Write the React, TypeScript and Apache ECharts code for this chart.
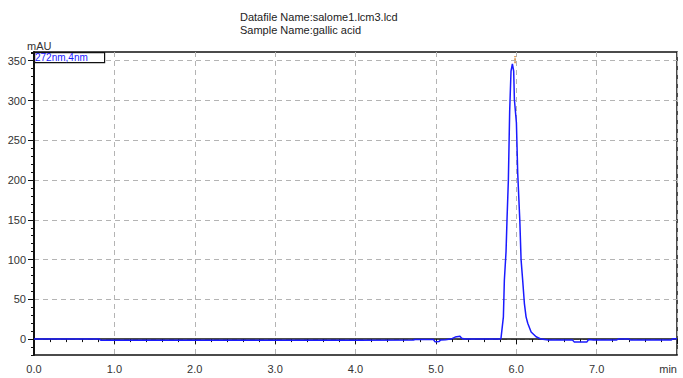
import React, { useEffect, useRef } from 'react';
import * as echarts from 'echarts';

// Chromatogram trace: retention time (min) and detector signal (mAU)
const timeMin = [
  0.0, 0.81, 0.83, 2.0, 3.0, 4.0, 4.72, 4.74, 4.97, 4.99, 5.04, 5.06, 5.12, 5.2, 5.24, 5.3,
  5.32, 5.36, 5.8, 5.81, 5.84, 5.852, 5.873, 5.885, 5.902, 5.918, 5.935, 5.952, 5.968,
  5.977, 6.002, 6.018, 6.044, 6.06, 6.08, 6.101, 6.122, 6.143, 6.185, 6.247, 6.31, 6.4,
  6.7, 6.72, 6.88, 6.9, 6.96, 7.25, 7.27, 7.4, 7.42, 7.93, 7.95, 8.0,
];
const signalMAU = [
  0, 0, -1.3, -1.3, -1.3, -1.3, -1.2, -0.5, -0.5, -3.5, -3.0, -1.0, -0.8, 0.5, 2.5, 3.5,
  1.0, 0, 0, 1, 28, 74, 110, 150, 200, 286, 337, 346, 337,
  301, 272, 209, 150, 100, 74, 45, 28, 20, 9, 3, 0, -1,
  -1.2, -3.5, -3.5, -0.5, -1.0, -1.0, 0, 0, -1.0, -1.0, 0.5, 0.5,
];

// Peak apex marker
const peakMarkTime = [5.985, 5.985];
const peakMarkValue = [347, 356];

// Axis labelling
const yLabelValues = [0, 50, 100, 150, 200, 250, 300, 350];
const xMax = 8.0;
const titleLines = ['Datafile Name:salome1.lcm3.lcd', 'Sample Name:gallic acid'];
const channelName = '272nm,4nm';
const yUnit = 'mAU';
const xUnit = 'min';

const FONT = '"Liberation Sans", Arial, sans-serif';

export default function App() {
  const ref = useRef<HTMLDivElement>(null);

  useEffect(() => {
    if (!ref.current) return;
    const chart = echarts.init(ref.current, undefined, { renderer: 'svg' });

    const trace = timeMin.map((t, i) => [t, signalMAU[i]]);
    const mark = peakMarkTime.map((t, i) => [t, peakMarkValue[i]]);

    chart.setOption({
      animation: false,
      backgroundColor: '#ffffff',
      textStyle: { fontFamily: FONT },
      grid: {
        left: 34,
        right: 6,
        top: 52,
        bottom: 23,
        show: true,
        borderColor: '#111',
        borderWidth: 1.5,
        backgroundColor: 'transparent',
      },
      xAxis: {
        type: 'value',
        min: 0,
        max: xMax,
        interval: 1,
        axisLine: { show: true, lineStyle: { color: '#111', width: 1.5 } },
        axisTick: { show: true, inside: false, length: 5, lineStyle: { color: '#111' } },
        minorTick: { show: true, splitNumber: 5, length: 3, lineStyle: { color: '#111' } },
        axisLabel: {
          fontSize: 11,
          color: '#333',
          margin: 8,
          fontFamily: FONT,
          alignMaxLabel: 'right',
          formatter: (v: number) => (v >= xMax ? xUnit : v.toFixed(1)),
        },
        splitLine: {
          show: true,
          lineStyle: { color: '#b4b4b4', type: [5, 4], width: 1 },
        },
      },
      yAxis: [
        {
          type: 'value',
          min: -20,
          max: 361,
          interval: 10,
          axisLine: { show: true, lineStyle: { color: '#111', width: 2 } },
          axisTick: {
            show: true,
            length: 6,
            customValues: yLabelValues,
            lineStyle: { color: '#111' },
          },
          axisLabel: {
            fontSize: 11,
            color: '#333',
            margin: 8,
            fontFamily: FONT,
            customValues: yLabelValues,
          },
          splitLine: {
            show: true,
            lineStyle: { color: '#b4b4b4', type: [5, 4], width: 1 },
          },
        },
        {
          // short ticks every 10 mAU
          type: 'value',
          min: -20,
          max: 361,
          interval: 10,
          position: 'left',
          axisLine: { show: false },
          axisTick: { show: true, length: 3, lineStyle: { color: '#111' } },
          axisLabel: { show: false },
          splitLine: { show: false },
        },
      ],
      graphic: [
        {
          type: 'text',
          left: 240,
          top: 10,
          style: {
            text: titleLines.join('\n'),
            font: `11px ${FONT}`,
            fill: '#222',
            lineHeight: 13,
          },
        },
        {
          type: 'text',
          left: 27,
          top: 40,
          style: { text: yUnit, font: `11px ${FONT}`, fill: '#333' },
        },
        {
          type: 'rect',
          left: 34,
          top: 52,
          shape: { width: 70, height: 10 },
          style: { fill: '#fff', stroke: '#111', lineWidth: 1.2 },
          z: 10,
        },
        {
          type: 'text',
          left: 35,
          top: 52,
          style: { text: channelName, font: `10px ${FONT}`, fill: '#1a1aff' },
          z: 11,
        },
      ],
      series: [
        {
          type: 'line',
          data: trace,
          showSymbol: false,
          symbol: 'none',
          lineStyle: { color: '#1a1aff', width: 1.5 },
          z: 3,
        },
        {
          type: 'line',
          data: mark,
          showSymbol: false,
          symbol: 'none',
          lineStyle: { color: '#d4883a', width: 1.5, type: [2, 1] },
          z: 4,
        },
      ],
    });

    return () => chart.dispose();
  }, []);

  return <div ref={ref} style={{ width: 683, height: 378, position: 'absolute', left: 0, top: 0 }} />;
}
